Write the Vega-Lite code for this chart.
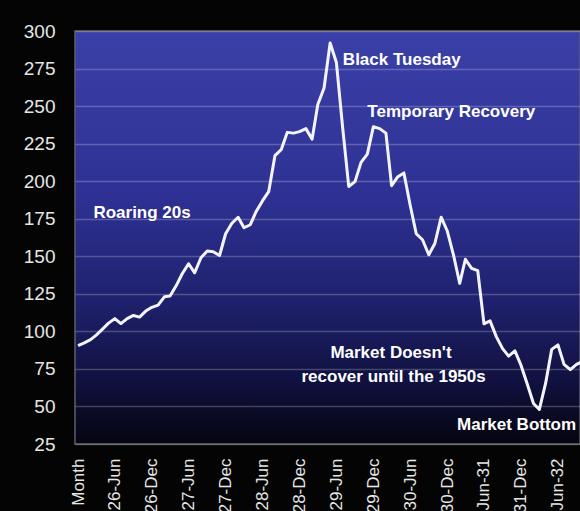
{
  "$schema": "https://vega.github.io/schema/vega-lite/v6.json",
  "width": 505,
  "height": 413,
  "autosize": "none",
  "padding": {"left": 75, "top": 31, "right": 0, "bottom": 67},
  "background": "#040404",
  "config": {
    "view": {"stroke": null},
    "font": "Liberation Sans"
  },
  "layer": [
    {
      "data": {"values": [{}]},
      "mark": {
        "type": "rect",
        "stroke": "#5e5e6a",
        "strokeWidth": 1.5,
        "fill": {
          "gradient": "linear", "x1": 0, "y1": 0, "x2": 0, "y2": 1,
          "stops": [
            {"offset": 0, "color": "#3b40a8"},
            {"offset": 0.4, "color": "#2e3193"},
            {"offset": 0.65, "color": "#1f216e"},
            {"offset": 0.85, "color": "#10113f"},
            {"offset": 1, "color": "#05050f"}
          ]
        }
      },
      "encoding": {}
    },
    {
      "data": {"values": [
        {"month": "1925-12-01", "index": 90.5},
        {"month": "1926-01-01", "index": 92.3},
        {"month": "1926-02-01", "index": 94.5},
        {"month": "1926-03-01", "index": 97.5},
        {"month": "1926-04-01", "index": 101.5},
        {"month": "1926-05-01", "index": 105.5},
        {"month": "1926-06-01", "index": 108.5},
        {"month": "1926-07-01", "index": 105.2},
        {"month": "1926-08-01", "index": 108.5},
        {"month": "1926-09-01", "index": 110.6},
        {"month": "1926-10-01", "index": 109.5},
        {"month": "1926-11-01", "index": 113.5},
        {"month": "1926-12-01", "index": 116},
        {"month": "1927-01-01", "index": 117.5},
        {"month": "1927-02-01", "index": 123},
        {"month": "1927-03-01", "index": 123.5},
        {"month": "1927-04-01", "index": 130.5},
        {"month": "1927-05-01", "index": 138.5},
        {"month": "1927-06-01", "index": 145},
        {"month": "1927-07-01", "index": 139},
        {"month": "1927-08-01", "index": 149},
        {"month": "1927-09-01", "index": 153.5},
        {"month": "1927-10-01", "index": 153},
        {"month": "1927-11-01", "index": 150.5},
        {"month": "1927-12-01", "index": 165},
        {"month": "1928-01-01", "index": 172},
        {"month": "1928-02-01", "index": 176},
        {"month": "1928-03-01", "index": 169},
        {"month": "1928-04-01", "index": 171},
        {"month": "1928-05-01", "index": 180},
        {"month": "1928-06-01", "index": 187},
        {"month": "1928-07-01", "index": 193},
        {"month": "1928-08-01", "index": 217},
        {"month": "1928-09-01", "index": 221},
        {"month": "1928-10-01", "index": 232.5},
        {"month": "1928-11-01", "index": 232},
        {"month": "1928-12-01", "index": 233},
        {"month": "1929-01-01", "index": 235},
        {"month": "1929-02-01", "index": 228},
        {"month": "1929-03-01", "index": 251},
        {"month": "1929-04-01", "index": 262},
        {"month": "1929-05-01", "index": 292},
        {"month": "1929-06-01", "index": 279},
        {"month": "1929-07-01", "index": 237},
        {"month": "1929-08-01", "index": 196.5},
        {"month": "1929-09-01", "index": 199.7},
        {"month": "1929-10-01", "index": 212.5},
        {"month": "1929-11-01", "index": 218},
        {"month": "1929-12-01", "index": 236.3},
        {"month": "1930-01-01", "index": 235},
        {"month": "1930-02-01", "index": 232},
        {"month": "1930-03-01", "index": 197},
        {"month": "1930-04-01", "index": 203},
        {"month": "1930-05-01", "index": 205.5},
        {"month": "1930-06-01", "index": 184},
        {"month": "1930-07-01", "index": 165},
        {"month": "1930-08-01", "index": 161},
        {"month": "1930-09-01", "index": 151},
        {"month": "1930-10-01", "index": 158.5},
        {"month": "1930-11-01", "index": 176},
        {"month": "1930-12-01", "index": 167},
        {"month": "1931-01-01", "index": 151},
        {"month": "1931-02-01", "index": 132},
        {"month": "1931-03-01", "index": 148},
        {"month": "1931-04-01", "index": 142},
        {"month": "1931-05-01", "index": 140.5},
        {"month": "1931-06-01", "index": 105},
        {"month": "1931-07-01", "index": 107},
        {"month": "1931-08-01", "index": 96.5},
        {"month": "1931-09-01", "index": 88.5},
        {"month": "1931-10-01", "index": 83.5},
        {"month": "1931-11-01", "index": 87},
        {"month": "1931-12-01", "index": 77.5},
        {"month": "1932-01-01", "index": 65},
        {"month": "1932-02-01", "index": 52},
        {"month": "1932-03-01", "index": 48},
        {"month": "1932-04-01", "index": 65.5},
        {"month": "1932-05-01", "index": 88},
        {"month": "1932-06-01", "index": 91},
        {"month": "1932-07-01", "index": 78},
        {"month": "1932-08-01", "index": 74.5},
        {"month": "1932-09-01", "index": 78},
        {"month": "1932-10-01", "index": 80}
      ]},
      "mark": {"type": "line", "color": "#f4f4ff", "strokeWidth": 3, "clip": true, "strokeJoin": "round"},
      "encoding": {
        "x": {
          "field": "month", "type": "temporal", "title": null,
          "scale": {
            "type": "utc",
            "domain": [
              {"year": 1925, "month": 11, "date": 16, "utc": true},
              {"year": 1932, "month": 9, "date": 18, "utc": true}
            ]
          },
          "axis": {
            "values": [
              {"year": 1925, "month": 12, "date": 1, "utc": true},
              {"year": 1926, "month": 6, "date": 1, "utc": true},
              {"year": 1926, "month": 12, "date": 1, "utc": true},
              {"year": 1927, "month": 6, "date": 1, "utc": true},
              {"year": 1927, "month": 12, "date": 1, "utc": true},
              {"year": 1928, "month": 6, "date": 1, "utc": true},
              {"year": 1928, "month": 12, "date": 1, "utc": true},
              {"year": 1929, "month": 6, "date": 1, "utc": true},
              {"year": 1929, "month": 12, "date": 1, "utc": true},
              {"year": 1930, "month": 6, "date": 1, "utc": true},
              {"year": 1930, "month": 12, "date": 1, "utc": true},
              {"year": 1931, "month": 6, "date": 1, "utc": true},
              {"year": 1931, "month": 12, "date": 1, "utc": true},
              {"year": 1932, "month": 6, "date": 1, "utc": true}
            ],
            "tickCount": 40,
            "labelExpr": "utcyear(datum.value) == 1925 ? 'Month' : ((utcmonth(datum.value) == 5 && utcyear(datum.value) >= 1931) ? utcFormat(datum.value, '%b-%y') : utcFormat(datum.value, '%y-%b'))",
            "labelAngle": -90,
            "labelAlign": "right",
            "labelBaseline": "middle",
            "labelPadding": 14,
            "labelFontSize": 17,
            "labelColor": "#e6e6e6",
            "labelOverlap": false,
            "labelFlush": false,
            "ticks": false,
            "domain": false,
            "grid": false
          }
        },
        "y": {
          "field": "index", "type": "quantitative", "title": null,
          "scale": {"domain": [25, 300], "nice": false, "zero": false},
          "axis": {
            "values": [25, 50, 75, 100, 125, 150, 175, 200, 225, 250, 275, 300],
            "tickCount": 40,
            "labelOverlap": false,
            "labelFlush": false,
            "labelFontSize": 19,
            "labelColor": "#e6e6e6",
            "labelPadding": 20,
            "ticks": false,
            "domain": false,
            "grid": true,
            "gridColor": "#ffffff",
            "gridOpacity": 0.22,
            "gridWidth": 1.5,
            "zindex": 1
          }
        }
      }
    },
    {
      "data": {"values": [
        {"at": "1929-07-03", "level": 280.7, "note": "Black Tuesday"},
        {"at": "1929-11-01", "level": 246, "note": "Temporary Recovery"},
        {"at": "1926-02-15", "level": 178.6, "note": "Roaring 20s"},
        {"at": "1931-01-19", "level": 37.6, "note": "Market Bottom"}
      ]},
      "mark": {"type": "text", "align": "left", "baseline": "middle", "font": "Liberation Sans", "fontWeight": "bold", "fontSize": 17, "color": "#ffffff", "clip": true},
      "encoding": {
        "x": {"field": "at", "type": "temporal"},
        "y": {"field": "level", "type": "quantitative"},
        "text": {"field": "note"}
      }
    },
    {
      "data": {"values": [
        {"at": "1930-02-26", "level": 85.6, "note": "Market Doesn't"},
        {"at": "1930-03-11", "level": 69.6, "note": "recover until the 1950s"}
      ]},
      "mark": {"type": "text", "align": "center", "baseline": "middle", "font": "Liberation Sans", "fontWeight": "bold", "fontSize": 17, "color": "#ffffff"},
      "encoding": {
        "x": {"field": "at", "type": "temporal"},
        "y": {"field": "level", "type": "quantitative"},
        "text": {"field": "note"}
      }
    }
  ]
}
